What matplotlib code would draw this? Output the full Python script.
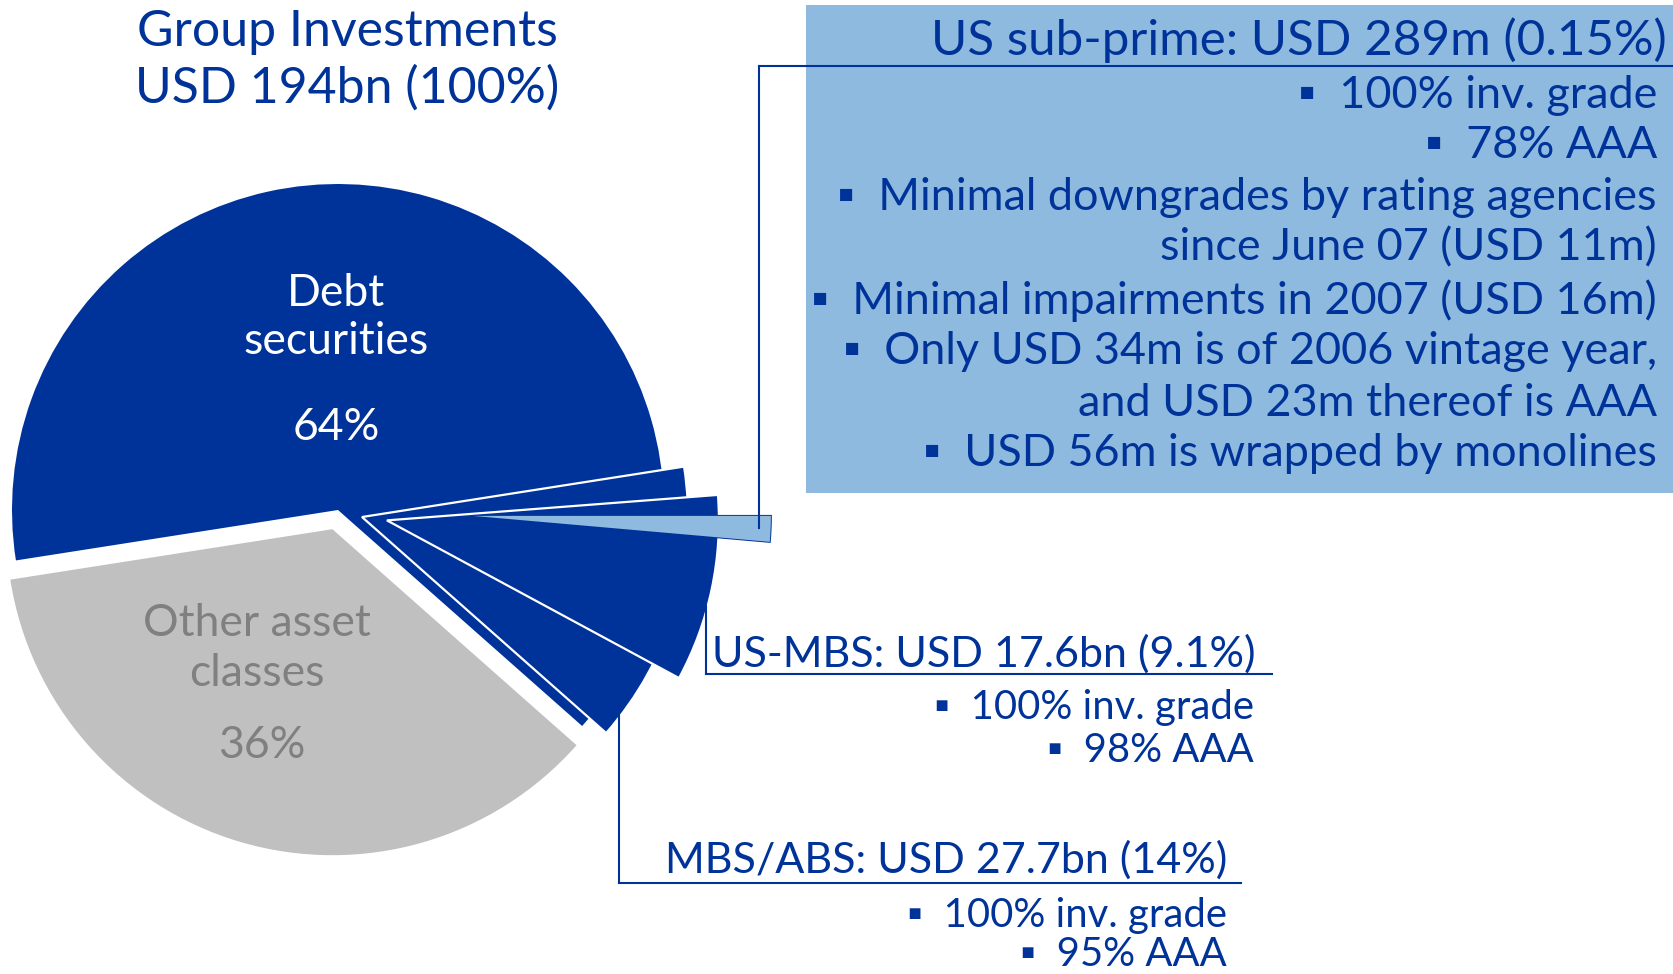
import matplotlib
matplotlib.use("Agg")
import matplotlib.pyplot as plt
from matplotlib.patches import Wedge, Rectangle
import numpy as np

# ---------------- data ----------------
top_categories = ["Debt securities", "Other asset classes"]
top_share_pct = [64, 36]                 # % of group investments (USD 194bn)
mbs_abs_pct = 14.0                       # MBS/ABS: USD 27.7bn
us_mbs_pct = 9.1                         # US-MBS: USD 17.6bn
subprime_pct = 0.15                      # US sub-prime: USD 289m

title_lines = ["Group Investments", "USD 194bn (100%)"]
debt_label_lines = ["Debt", "securities", "64%"]
other_label_lines = ["Other asset", "classes", "36%"]

subprime_header = "US sub-prime: USD 289m (0.15%)"
subprime_lines = [
    (True, "100% inv. grade"),
    (True, "78% AAA"),
    (True, "Minimal downgrades by rating agencies"),
    (False, "since June 07 (USD 11m)"),
    (True, "Minimal impairments in 2007 (USD 16m)"),
    (True, "Only USD 34m is of 2006 vintage year,"),
    (False, "and USD 23m thereof is AAA"),
    (True, "USD 56m is wrapped by monolines"),
]
us_mbs_header = "US-MBS: USD 17.6bn (9.1%)"
us_mbs_lines = ["100% inv. grade", "98% AAA"]
mbs_abs_header = "MBS/ABS: USD 27.7bn (14%)"
mbs_abs_lines = ["100% inv. grade", "95% AAA"]

# ---------------- style ----------------
BLUE = "#003399"
LIGHT = "#8FBADF"
GRAY = "#C0C0C0"
GRAYTXT = "#808080"
FONT = ["Lato", "DejaVu Sans"]
BUL = "\u25AA"

W, H = 1673, 974
fig = plt.figure(figsize=(W / 100, H / 100), dpi=100)
ax = fig.add_axes([0, 0, 1, 1])
ax.set_xlim(0, W)
ax.set_ylim(0, H)
ax.axis("off")


def Y(y):
    return H - y


def pol(c, r, a):
    return (c[0] + r * np.cos(np.radians(a)), c[1] + r * np.sin(np.radians(a)))


DEG = 3.6
start = -41.5
C = (338, Y(510))
R = 326

# top level pie
debt_t1 = start
debt_t2 = start + top_share_pct[0] * DEG
oth_t1, oth_t2 = debt_t2, debt_t2 + top_share_pct[1] * DEG
C_oth = pol(C, 20, (oth_t1 + oth_t2) / 2)
ax.add_patch(Wedge(C_oth, R, oth_t1, oth_t2, facecolor=GRAY, lw=0, zorder=1))
ax.add_patch(Wedge(C, R, debt_t1, debt_t2, facecolor=BLUE, lw=0, zorder=2))

# MBS/ABS slice
mbs_t1, mbs_t2 = start, start + mbs_abs_pct * DEG
mbs_mid = (mbs_t1 + mbs_t2) / 2
C_mbs = pol(C, 25, mbs_mid)
ax.add_patch(Wedge(C_mbs, R, mbs_t1, mbs_t2, facecolor=BLUE, edgecolor="white",
                   lw=1.6, zorder=3))

# US-MBS slice
us_t2 = mbs_t2 - 4.5
us_t1 = us_t2 - us_mbs_pct * DEG
us_mid = (us_t1 + us_t2) / 2
C_us = pol(C, 50, us_mid)
R_us = 332
ax.add_patch(Wedge(C_us, R_us, us_t1, us_t2, facecolor=BLUE, edgecolor="white",
                   lw=1.6, zorder=4))

# US sub-prime sliver (min. visible width)
sp_span = max(subprime_pct * DEG, 5.0)
sp_t2 = us_t2 - 4.4
sp_t1 = sp_t2 - sp_span
sp_mid = (sp_t1 + sp_t2) / 2
C_sp = pol(C, 135, sp_mid)
R_sp = 298
ax.add_patch(Wedge(C_sp, R_sp, sp_t1, sp_t2, facecolor="none", edgecolor=BLUE,
                   lw=1.4, zorder=4.5))
ax.add_patch(Wedge(C_sp, R_sp, sp_t1, sp_t2, facecolor=LIGHT, lw=0, zorder=5))

# ---------------- leader lines ----------------
lw_lead = 1.5
p = pol(C_sp, R_sp - 12, sp_mid)
ax.plot([p[0], p[0]], [p[1], Y(66)], color=BLUE, lw=lw_lead, zorder=6)
ax.plot([p[0], W], [Y(66), Y(66)], color=BLUE, lw=lw_lead, zorder=6)

q = pol(C_us, R_us - 2, us_mid - 3)
ax.plot([q[0], q[0]], [q[1], Y(674)], color=BLUE, lw=lw_lead, zorder=6)
ax.plot([q[0], 1272], [Y(674), Y(674)], color=BLUE, lw=lw_lead, zorder=6)

m = pol(C_mbs, R - 2, start + 4)
ax.plot([m[0], m[0]], [m[1], Y(883)], color=BLUE, lw=lw_lead, zorder=6)
ax.plot([m[0], 1241], [Y(883), Y(883)], color=BLUE, lw=lw_lead, zorder=6)

# ---------------- box ----------------
ax.add_patch(Rectangle((806, Y(493)), W - 806, 488, facecolor=LIGHT, lw=0, zorder=0))

# ---------------- texts ----------------
S_TITLE = 36
S_BOXHEAD = 35.6
S_BOX = 32.4
S_HEAD = 31
S_SUB = 28.8
S_PIE = 32

for txt, yy in zip(title_lines, [32, 88]):
    ax.text(347, Y(yy), txt, ha="center", va="center", color=BLUE,
            fontsize=S_TITLE, family=FONT, zorder=10)

for txt, yy in zip(debt_label_lines, [293, 342, 427]):
    ax.text(336, Y(yy), txt, ha="center", va="center", color="white",
            fontsize=S_PIE, family=FONT, zorder=10)
for txt, xx, yy in zip(other_label_lines, [257, 257, 262], [624, 673, 745]):
    ax.text(xx, Y(yy), txt, ha="center", va="center", color=GRAYTXT,
            fontsize=S_PIE, family=FONT, zorder=10)

ax.text(1667, Y(40), subprime_header, ha="right", va="center", color=BLUE,
        fontsize=S_BOXHEAD, family=FONT, zorder=10)
for (bul, txt), yy in zip(subprime_lines, [95, 146, 198, 248, 301, 352, 403, 454]):
    s = (BUL + "  " + txt) if bul else txt
    ax.text(1657, Y(yy), s, ha="right", va="center", color=BLUE,
            fontsize=S_BOX, family=FONT, zorder=10)

ax.text(1256, Y(654), us_mbs_header, ha="right", va="center", color=BLUE,
        fontsize=S_HEAD, family=FONT, zorder=10)
for txt, yy in zip(us_mbs_lines, [707, 750]):
    ax.text(1254, Y(yy), BUL + "  " + txt, ha="right", va="center", color=BLUE,
            fontsize=S_SUB, family=FONT, zorder=10)

ax.text(1227, Y(860), mbs_abs_header, ha="right", va="center", color=BLUE,
        fontsize=S_HEAD, family=FONT, zorder=10)
for txt, yy in zip(mbs_abs_lines, [915, 955]):
    ax.text(1227, Y(yy), BUL + "  " + txt, ha="right", va="center", color=BLUE,
            fontsize=S_SUB, family=FONT, zorder=10)

fig.savefig("out.png", dpi=100)
